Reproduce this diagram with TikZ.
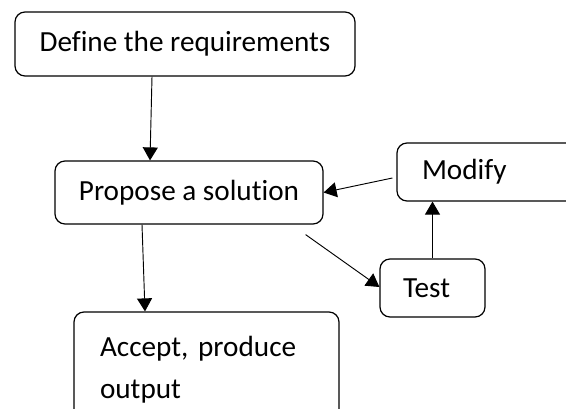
\documentclass[tikz,border=0pt]{standalone}
\usepackage{fontspec}
\setmainfont[Ligatures=NoCommon]{Carlito}
\usetikzlibrary{arrows.meta,calc}

\tikzset{
	box/.style={draw,line width=0.9pt,rounded corners=7.5pt,inner ysep=0pt},
	link/.style={line width=0.7pt,-{Triangle[length=9.75pt,width=11.25pt]}}
}

\begin{document}
\frenchspacing
\begin{tikzpicture}[x=0.75pt,y=-0.75pt]
	\useasboundingbox (0,0) rectangle (566,409);
	\fontsize{21.9}{31.5}\selectfont
	
	\node[box,minimum width=255pt,minimum height=48pt] (define) at (185,44) {Define the requirements};
	
	\node[box,minimum width=201pt,minimum height=47.25pt] (propose) at (189,192.5) {Propose a solution};
	
	\node[box,minimum height=43.5pt,text width=114.75pt,inner xsep=18.75pt,align=left] (modify) at (498.5,172) {Modify};
	
	\node[box,minimum height=43.5pt,text width=44.25pt,inner xsep=17.25pt,align=left] (test) at (432.5,288) {Test};
	
	\node[box,minimum height=87pt,text width=159.75pt,inner xsep=19.5pt,align=left] (accept) at (206.5,370) {
		Accept, produce\\
		output
	};
	
	\draw[link] ($(define.south)+(-33,0)$) -- ($(propose.north)+(-39,0)$);
	\draw[link] ($(propose.south)+(-47,0)$) -- ($(accept.north)+(-61.5,0)$);
	\draw[link] ($(propose.south east)+(-18,10)$) -- ($(test.west)+(0,-1)$);
	\draw[link] (test.north) -- (modify.south -| test.north);
	\draw[link] ($(modify.west)+(-4,6)$) -- (propose.east);
\end{tikzpicture}
\end{document}
